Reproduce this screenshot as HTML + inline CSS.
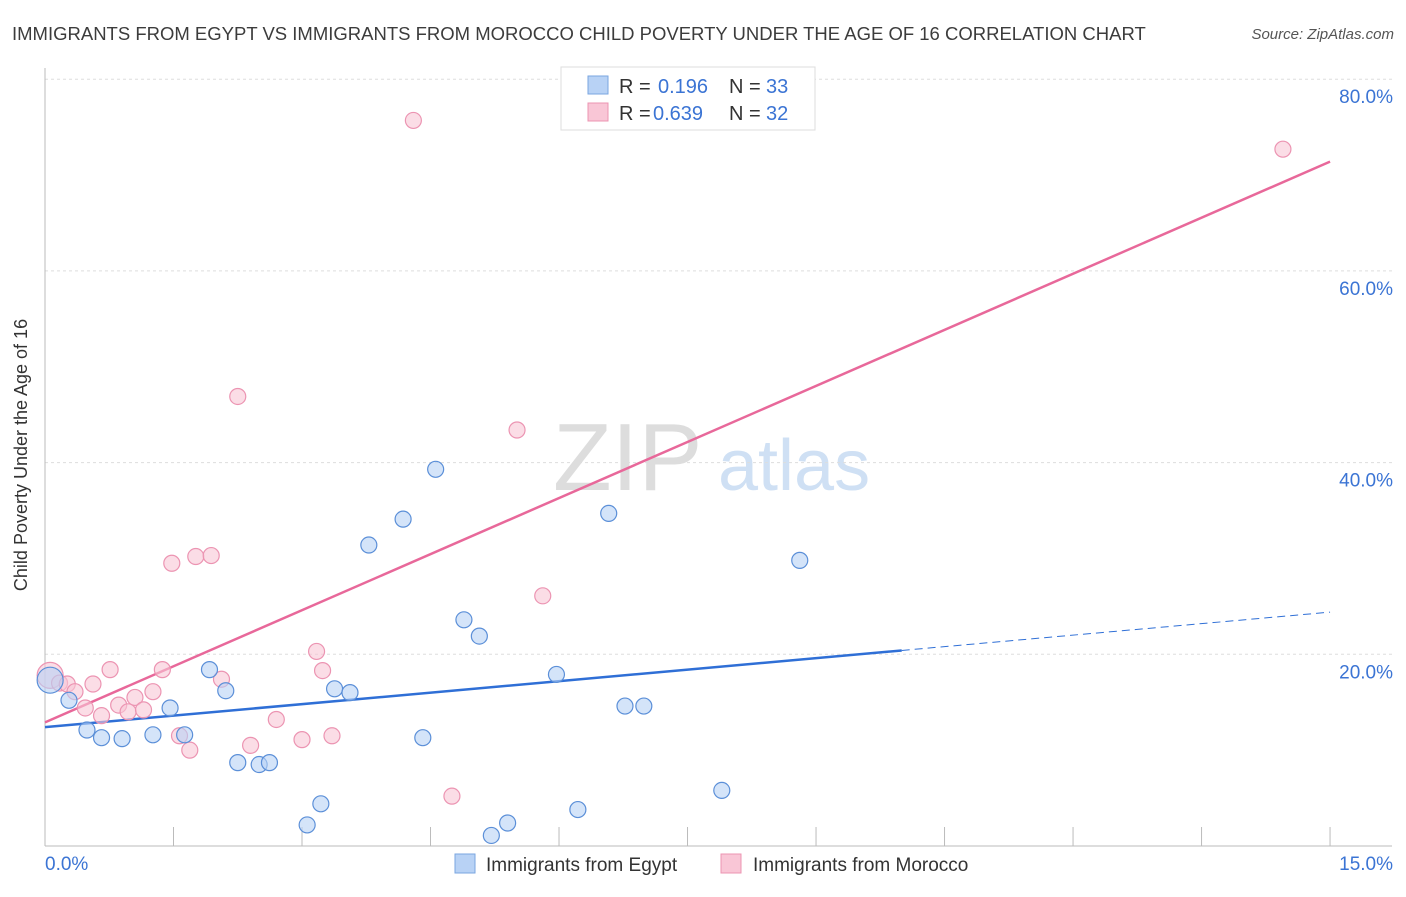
<!DOCTYPE html>
<html><head><meta charset="utf-8"><style>
body{margin:0;background:#fff;font-family:"Liberation Sans",sans-serif;}
svg text{font-family:"Liberation Sans",sans-serif;}
</style></head><body>
<svg id="c" width="1406" height="892" xmlns="http://www.w3.org/2000/svg">
<text x="12" y="40" font-size="18.5" fill="#3c3c3c">IMMIGRANTS FROM EGYPT VS IMMIGRANTS FROM MOROCCO CHILD POVERTY UNDER THE AGE OF 16 CORRELATION CHART</text>
<text x="1394" y="39" font-size="15" fill="#555" text-anchor="end" font-style="italic">Source: ZipAtlas.com</text>
<text x="27" y="455" font-size="18" fill="#333" text-anchor="middle" transform="rotate(-90 27 455)">Child Poverty Under the Age of 16</text>
<g><text x="553" y="490" font-size="96" fill="#ddd" font-family="Liberation Serif">ZIP</text><text x="718" y="490" font-size="72" fill="#cfe0f4">atlas</text></g>
<g id="grid"></g><g id="lines"></g><g id="pts"></g>
<g>
<rect x="561" y="67" width="254" height="63" fill="#fff" stroke="#ddd"/>
<rect x="588" y="76" width="20" height="18" fill="#b8d2f5" stroke="#7aa6e0"/>
<text x="619" y="93" font-size="20" fill="#333">R = </text><text x="658" y="93" font-size="20" fill="#3b74d4">0.196</text>
<text x="729" y="93" font-size="20" fill="#333">N = </text><text x="766" y="93" font-size="20" fill="#3b74d4">33</text>
<rect x="588" y="103" width="20" height="18" fill="#f9c6d6" stroke="#ec94b2"/>
<text x="619" y="120" font-size="20" fill="#333">R = </text><text x="653" y="120" font-size="20" fill="#3b74d4">0.639</text>
<text x="729" y="120" font-size="20" fill="#333">N = </text><text x="766" y="120" font-size="20" fill="#3b74d4">32</text>
</g>
<g>
<rect x="455" y="854" width="20" height="19" fill="#b8d2f5" stroke="#7aa6e0"/>
<text x="486" y="871" font-size="19" fill="#333">Immigrants from Egypt</text>
<rect x="721" y="854" width="20" height="19" fill="#f9c6d6" stroke="#ec94b2"/>
<text x="753" y="871" font-size="19" fill="#333">Immigrants from Morocco</text>
</g>
</svg>
<script>
const yTicks=[20,40,60,80];
const xTickLabels=["0.0%","15.0%"];
const egyptX=[0.06,0.28,0.49,0.66,0.90,1.26,1.46,1.63,1.92,2.11,2.25,2.50,2.62,3.06,3.22,3.38,3.56,3.78,4.18,4.41,4.56,4.89,5.07,5.21,5.40,5.97,6.22,6.58,6.77,6.99,7.90,8.81];
const egyptY=[17.3,15.2,12.1,11.3,11.2,11.6,14.4,11.6,18.4,16.2,8.7,8.5,8.7,2.2,4.4,16.4,16.0,31.4,34.1,11.3,39.3,23.6,21.9,1.1,2.4,17.9,3.8,34.7,14.6,14.6,5.8,29.8];
const moroccoX=[0.06,0.17,0.26,0.35,0.47,0.56,0.66,0.76,0.86,0.97,1.05,1.15,1.26,1.37,1.48,1.57,1.69,1.76,1.94,2.06,2.25,2.40,2.70,3.00,3.17,3.24,3.35,4.30,4.75,5.51,5.81,14.45];
const moroccoY=[17.8,17.0,16.9,16.1,14.4,16.9,13.6,18.4,14.7,14.0,15.5,14.2,16.1,18.4,29.5,11.5,10.0,30.2,30.3,17.4,46.9,10.5,13.2,11.1,20.3,18.3,11.5,75.7,5.2,43.4,26.1,72.7];
const egyptLine=[[0,12.4],[10,20.4],[15,24.4]];
const moroccoLine=[[0,12.9],[15,71.4]];
const X=v=>45+v*85.67, Y=v=>846-v*9.585;
const NS="http://www.w3.org/2000/svg";
function mk(p,t,a){const e=document.createElementNS(NS,t);for(const k in a)e.setAttribute(k,a[k]);p.appendChild(e);return e;}
const g=document.getElementById('grid');
yTicks.forEach(v=>{const l=mk(g,'line',{x1:45,x2:1392,y1:Y(v),y2:Y(v),stroke:'#ddd','stroke-dasharray':'3,3'});


const t=mk(g,'text',{x:1393,y:Y(v)+24,'font-size':19,fill:'#3b74d4','text-anchor':'end'});t.textContent=v.toFixed(1)+'%';

});
const ax=mk(g,'line',{x1:45,x2:1392,y1:846,y2:846,stroke:'#bbb'});


const ay=mk(g,'line',{x1:45,x2:45,y1:68,y2:846,stroke:'#bbb'});


for(let i=1;i<=10;i++){const tk=mk(g,'line',{x1:X(i*1.5),x2:X(i*1.5),y1:827,y2:846,stroke:'#bbb'});

}
[[0,45,'start'],[1,1393,'end']].forEach(([i,x,a])=>{const t=mk(g,'text',{x:x,y:870,'font-size':19,fill:'#3b74d4','text-anchor':a});t.textContent=xTickLabels[i];

});
const pg=document.getElementById('pts');
function pts(xs,ys,f,s,n){xs.forEach((x,i)=>{const c=mk(pg,'circle',{cx:X(x),cy:Y(ys[i]),r:i==0?13:8,fill:f,'fill-opacity':0.6,stroke:s,'stroke-width':1.2});

});}
pts(moroccoX,moroccoY,'#f9c6d6','#ec94b2','morocco-point');
pts(egyptX,egyptY,'#b8d2f5','#5b8fd8','egypt-point');
const lg=document.getElementById('lines');
const bl=mk(lg,'line',{x1:X(egyptLine[0][0]),y1:Y(egyptLine[0][1]),x2:X(egyptLine[1][0]),y2:Y(egyptLine[1][1]),stroke:'#2f6fd6','stroke-width':2.5});


const bd=mk(lg,'line',{x1:X(egyptLine[1][0]),y1:Y(egyptLine[1][1]),x2:X(egyptLine[2][0]),y2:Y(egyptLine[2][1]),stroke:'#2f6fd6','stroke-width':1,'stroke-dasharray':'8,5'});


const pl=mk(lg,'line',{x1:X(moroccoLine[0][0]),y1:Y(moroccoLine[0][1]),x2:X(moroccoLine[1][0]),y2:Y(moroccoLine[1][1]),stroke:'#e8689a','stroke-width':2.5});


</script>
</body></html>
